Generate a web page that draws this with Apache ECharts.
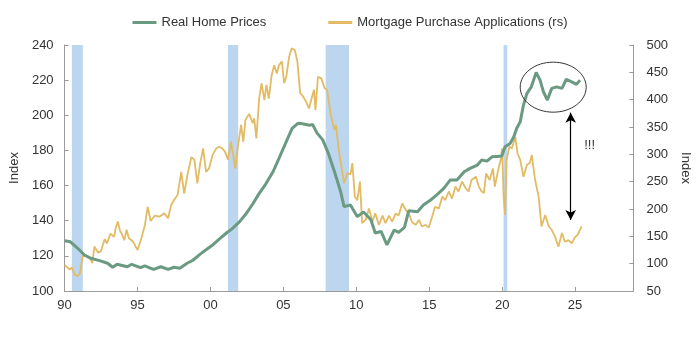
<!DOCTYPE html>
<html>
<head>
<meta charset="utf-8">
<script src="https://cdn.jsdelivr.net/npm/echarts@6/dist/echarts.min.js"></script>
<style>
html,body{margin:0;padding:0;background:#fff;}
#chart{width:700px;height:346px;}
</style>
</head>
<body>
<div id="chart"></div>
<script>
// Real Home Prices (left axis)
const hpYears = [1990.0,1990.4,1990.9,1991.36,1991.8,1992.4,1992.95,1993.3,1993.6,1994.3,1994.6,1995.2,1995.5,1996.1,1996.6,1997.1,1997.5,1997.9,1998.4,1998.8,1999.3,1999.7,2000.2,2000.6,2001.1,2001.5,2002.0,2002.4,2002.9,2003.3,2003.8,2004.3,2004.7,2005.2,2005.6,2006.0,2006.3,2006.8,2007.0,2007.3,2007.7,2008.1,2008.5,2008.93,2009.16,2009.6,2010.07,2010.5,2011.0,2011.3,2011.7,2012.1,2012.6,2012.9,2013.3,2013.6,2014.2,2014.6,2015.1,2015.5,2016.0,2016.45,2016.9,2017.4,2017.8,2018.3,2018.6,2018.96,2019.3,2019.64,2019.98,2020.2,2020.55,2020.8,2021.0,2021.24,2021.46,2021.7,2022.0,2022.33,2022.6,2022.83,2023.1,2023.4,2023.74,2024.1,2024.4,2024.77,2025.1,2025.34];
const hpValues = [128.6,128.0,124.3,120.5,118.6,117.3,115.8,113.5,115.2,113.8,115.2,113.3,114.3,112.3,113.8,112.3,113.5,113.0,115.8,117.5,121,123.5,126.5,129.5,133,135.5,139.5,143.5,149.5,155,161,168,175.5,185,192.5,195.4,195.2,194.3,194.8,190,186,178,168,156.5,148,148.9,142.3,145,140.6,133,133.9,126.2,134.7,133.4,136.2,145.7,145.1,148.9,151.8,154.6,158.4,163.2,163.2,167.9,169.8,171.7,174.5,173.9,176.4,176.6,176.8,182.1,184,187.8,192.6,196.3,205.8,212.5,216.2,224.4,220,213.4,208.7,215.3,216.2,215.3,220.5,219,217.6,220];

// Mortgage Purchase Applications (right axis)
const mbaYears = [1990.0,1990.2,1990.34,1990.5,1990.7,1990.9,1991.05,1991.25,1991.5,1991.75,1991.9,1992.05,1992.3,1992.5,1992.75,1992.9,1993.15,1993.4,1993.5,1993.65,1993.8,1993.9,1994.1,1994.25,1994.4,1994.7,1995.0,1995.25,1995.5,1995.7,1995.9,1996.2,1996.5,1996.84,1997.1,1997.3,1997.5,1997.75,1998.0,1998.2,1998.45,1998.7,1998.9,1999.1,1999.3,1999.5,1999.7,1999.9,2000.15,2000.4,2000.6,2000.8,2001.0,2001.2,2001.4,2001.56,2001.7,2001.9,2002.1,2002.25,2002.4,2002.65,2002.9,2003.0,2003.15,2003.34,2003.5,2003.7,2003.84,2004.0,2004.2,2004.37,2004.55,2004.7,2004.9,2005.05,2005.2,2005.4,2005.57,2005.78,2005.96,2006.15,2006.3,2006.5,2006.76,2006.9,2007.1,2007.2,2007.37,2007.6,2007.83,2008.0,2008.25,2008.5,2008.6,2008.8,2008.93,2009.16,2009.4,2009.6,2009.73,2009.9,2010.07,2010.25,2010.4,2010.64,2010.87,2011.1,2011.3,2011.55,2011.8,2012.0,2012.24,2012.46,2012.7,2012.9,2013.15,2013.4,2013.6,2013.8,2014.06,2014.3,2014.5,2014.75,2014.97,2015.2,2015.4,2015.66,2015.9,2016.1,2016.34,2016.57,2016.8,2017.0,2017.25,2017.5,2017.7,2017.9,2018.2,2018.4,2018.6,2018.75,2018.9,2019.14,2019.37,2019.5,2019.7,2019.9,2020.0,2020.1,2020.2,2020.3,2020.5,2020.67,2020.9,2021.05,2021.24,2021.46,2021.7,2021.9,2022.03,2022.26,2022.5,2022.7,2022.95,2023.2,2023.4,2023.63,2023.86,2024.1,2024.3,2024.54,2024.77,2025.0,2025.16,2025.45];
const mbaValues = [97,93,89,93,80,77,82,114,115,110,101,131,120,123,145,137,155,149,165,177,160,156,143,162,147,140,125,145,170,204,178,188,186,192,183,207,216,226,268,228,266,295,290,247,284,311,268,274,299,311,314,311,305,290,323,299,274,317,354,323,363,374,357,366,329,402,430,399,427,402,445,463,448,463,470,430,442,479,494,491,470,412,408,399,384,399,418,381,442,439,421,418,372,345,354,308,305,247,266,263,284,223,216,250,174,180,201,177,192,171,188,174,188,177,192,188,210,198,192,177,171,180,168,171,166,186,204,201,223,216,232,219,241,232,250,238,232,253,259,241,232,229,265,253,274,241,268,290,311,223,189,290,314,311,332,302,290,259,281,284,299,253,223,168,189,168,162,149,131,156,140,143,137,149,152,168];

// Recession periods
const recStarts = [1990.5, 2001.2, 2007.9, 2020.1];
const recEnds   = [1991.25, 2001.9, 2009.5, 2020.35];

const xTickYears = [1990,1995,2000,2005,2010,2015,2020,2025];

const hpData = hpYears.map((y,i)=>[y,hpValues[i]]);
const mbaData = mbaYears.map((y,i)=>[y,mbaValues[i]]);
const recAreas = recStarts.map((s,i)=>[{xAxis:s},{xAxis:recEnds[i]}]);

const FONT = 'Liberation Sans, Arial, sans-serif';
const TXT = '#333';
const AX = '#9a9a9a';

const chart = echarts.init(document.getElementById('chart'), null, {renderer:'canvas'});
const option = {
  animation:false,
  textStyle:{fontFamily:FONT},
  legend:{
    top:11, left:'center', itemGap:62, itemWidth:24, itemHeight:3, icon:'rect',
    textStyle:{fontSize:13,color:TXT,fontFamily:FONT},
    data:['Real Home Prices','Mortgage Purchase Applications (rs)']
  },
  grid:{left:63, right:66, top:45, bottom:55, containLabel:false},
  xAxis:{
    type:'value', min:1990, max:2029, interval:5,
    axisLine:{show:true,lineStyle:{color:AX,width:1}},
    axisTick:{show:true,inside:true,length:4,lineStyle:{color:AX}},
    axisLabel:{fontSize:13,color:TXT,margin:8,fontFamily:FONT,showMaxLabel:false,
      formatter:v=> xTickYears.indexOf(v)>=0 ? String(v).slice(2) : ''},
    splitLine:{show:false}
  },
  yAxis:[{
    type:'value', min:100, max:240, interval:20, position:'left',
    name:'Index', nameLocation:'middle', nameGap:34, nameRotate:90,
    nameTextStyle:{fontSize:13,color:TXT,fontFamily:FONT},
    axisLine:{show:true,lineStyle:{color:AX,width:1}},
    axisTick:{show:true,inside:true,length:4,lineStyle:{color:AX}},
    axisLabel:{fontSize:13,color:TXT,margin:11,fontFamily:FONT},
    splitLine:{show:false}
  },{
    type:'value', min:50, max:500, interval:50, position:'right',
    name:'Index', nameLocation:'middle', nameGap:42, nameRotate:-90,
    nameTextStyle:{fontSize:13,color:TXT,fontFamily:FONT},
    axisLine:{show:true,lineStyle:{color:AX,width:1}},
    axisTick:{show:true,inside:true,length:4,lineStyle:{color:AX}},
    axisLabel:{fontSize:13,color:TXT,margin:13,fontFamily:FONT},
    splitLine:{show:false}
  }],
  series:[
    {
      name:'recessions', type:'line', data:[], yAxisIndex:0, z:1, silent:true,
      markArea:{silent:true, itemStyle:{color:'#bcd6ef',opacity:1}, data:recAreas}
    },
    {
      name:'Mortgage Purchase Applications (rs)', type:'line', yAxisIndex:1, z:3,
      data:mbaData, showSymbol:false, symbol:'none',
      lineStyle:{color:'#e2bb63',width:1.8}, itemStyle:{color:'#e2bb63'}
    },
    {
      name:'Real Home Prices', type:'line', yAxisIndex:0, z:4,
      data:hpData, showSymbol:false, symbol:'none',
      lineStyle:{color:'#6b9a83',width:3}, itemStyle:{color:'#6b9a83'},
      markLine:{
        silent:true, symbol:['arrow','arrow'], symbolSize:[8,10],
        label:{show:false},
        lineStyle:{color:'#000',width:1.2,type:'solid'},
        data:[[{coord:[2024.7,201.5]},{coord:[2024.7,140.4]}]]
      }
    }
  ]
};
chart.setOption(option);

// Annotation: ellipse around recent home prices, and "!!!" label
const c = chart.convertToPixel({xAxisIndex:0,yAxisIndex:0},[2023.5,216]);
const t = chart.convertToPixel({xAxisIndex:0,yAxisIndex:0},[2026.0,183]);
chart.setOption({
  graphic:[
    {type:'ellipse', shape:{cx:c[0],cy:c[1],rx:33,ry:25}, style:{fill:'none',stroke:'#333',lineWidth:1}, z:10},
    {type:'text', x:t[0], y:t[1], style:{text:'!!!',fontSize:13,fill:TXT,fontFamily:FONT,align:'center',verticalAlign:'middle'}, z:10}
  ]
});
</script>
</body>
</html>
